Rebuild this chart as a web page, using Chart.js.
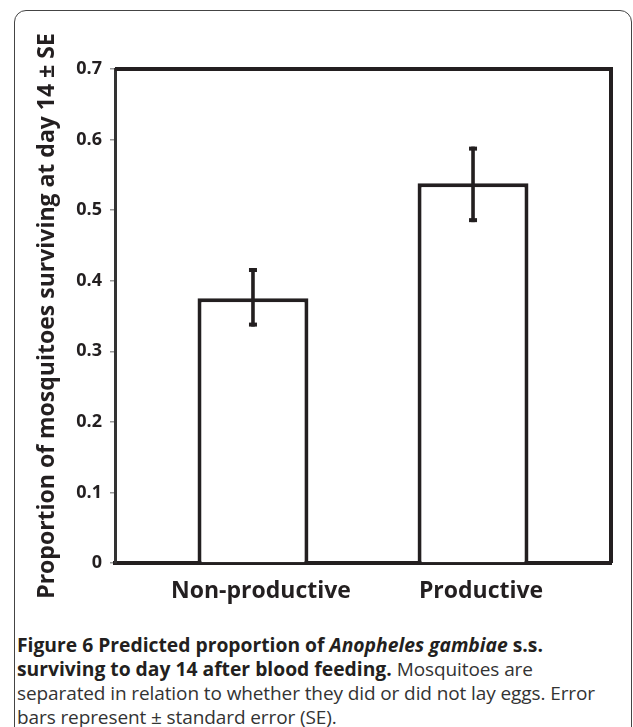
<!DOCTYPE html>
<html lang="en">
<head>
    <meta charset="UTF-8">
    <title>Figure 6</title>
    <script src="https://cdn.jsdelivr.net/npm/chart.js"></script>
    <style>
        body {
            margin: 0;
            width: 633px;
            height: 727px;
            overflow: hidden;
            background: #fff;
            position: relative;
            font-family: "Open Sans", sans-serif;
            color: #231f20;
        }
        .frame {
            position: absolute;
            left: 14px;
            top: 10px;
            width: 616px;
            height: 800px;
            border: 1.5px solid #444;
            border-radius: 12px;
        }
        .chart-box {
            position: absolute;
            left: 0;
            top: 0;
            width: 633px;
            height: 615px;
        }
        .caption {
            position: absolute;
            left: 17px;
            top: 633px;
            font-size: 19.3px;
            line-height: 24px;
            color: #231f20;
            white-space: nowrap;
        }
        .caption b { font-weight: 700; }
        .caption .reg { color: #333; font-size: 19px; letter-spacing: -0.1px; }
    </style>
</head>
<body>
    <div class="frame"></div>
    <div class="chart-box"><canvas id="chart"></canvas></div>
    <div class="caption">
        <b>Figure 6 Predicted proportion of <i>Anopheles gambiae</i> s.s.</b><br>
        <b>surviving to day 14 after blood feeding.</b> <span class="reg">Mosquitoes are</span><br>
        <span class="reg">separated in relation to whether they did or did not lay eggs. Error</span><br>
        <span class="reg">bars represent ± standard error (SE).</span>
    </div>

    <script>
        // Data
        const categories = ['Non-productive', 'Productive'];
        const meanSurvival = [0.375, 0.538];
        const upperSE = [0.418, 0.590];
        const lowerSE = [0.335, 0.483];
        const yTickLabels = ['0', '0.1', '0.2', '0.3', '0.4', '0.5', '0.6', '0.7'];

        const ink = '#231f20';

        // Error bars + the top/right frame of the plot box
        const errorBarsPlugin = {
            id: 'errorBars',
            afterDatasetsDraw(chart) {
                const ctx = chart.ctx;
                const xs = chart.scales.x;
                const ys = chart.scales.y;
                ctx.save();
                ctx.fillStyle = ink;
                categories.forEach((c, i) => {
                    const x = xs.getPixelForValue(i);
                    const yTop = ys.getPixelForValue(upperSE[i]);
                    const yBot = ys.getPixelForValue(lowerSE[i]);
                    ctx.fillRect(x - 1.8, yTop, 3.6, yBot - yTop);
                    ctx.fillRect(x - 4, yTop, 8, 4);
                    ctx.fillRect(x - 4, yBot - 4, 8, 4);
                });
                const a = chart.chartArea;
                ctx.strokeStyle = ink;
                ctx.lineWidth = 4;
                ctx.beginPath();
                ctx.moveTo(a.left, a.top);
                ctx.lineTo(a.right, a.top);
                ctx.lineTo(a.right, a.bottom);
                ctx.stroke();
                ctx.restore();
            }
        };

        new Chart(document.getElementById('chart'), {
            type: 'bar',
            data: {
                datasets: [{
                    data: meanSurvival.map((v, i) => ({ x: i, y: v })),
                    backgroundColor: '#ffffff',
                    borderColor: ink,
                    borderWidth: 4,
                    barPercentage: 1,
                    categoryPercentage: 0.504
                }]
            },
            options: {
                responsive: true,
                maintainAspectRatio: false,
                animation: false,
                layout: { padding: { left: 34, top: 69, right: 22, bottom: 0 } },
                plugins: {
                    legend: { display: false },
                    tooltip: { enabled: false }
                },
                scales: {
                    x: {
                        type: 'linear',
                        offset: false,
                        min: -0.627,
                        max: 1.627,
                        afterBuildTicks: (scale) => {
                            scale.ticks = categories.map((c, i) => ({ value: i }));
                        },
                        afterFit: (scale) => { scale.height = 52; },
                        grid: { display: false },
                        border: { display: true, color: ink, width: 4 },
                        ticks: {
                            autoSkip: false,
                            maxRotation: 0,
                            padding: 7,
                            labelOffset: 8,
                            color: ink,
                            font: { family: 'Open Sans', size: 23, weight: 'bold' },
                            callback: (v) => categories[v]
                        }
                    },
                    y: {
                        min: 0,
                        max: 0.7,
                        afterFit: (scale) => { scale.width = 81; },
                        grid: {
                            drawOnChartArea: false,
                            drawTicks: true,
                            tickLength: 5,
                            color: '#999',
                            lineWidth: 1.5
                        },
                        border: { display: true, color: '#333', width: 3 },
                        ticks: {
                            stepSize: 0.1,
                            padding: 8,
                            color: ink,
                            font: { family: 'Open Sans', size: 18, weight: 'bold' },
                            callback: (v, i) => yTickLabels[i]
                        },
                        title: {
                            display: true,
                            text: 'Proportion of mosquitoes surviving at day 14 ± SE',
                            color: ink,
                            padding: 0,
                            font: { family: 'Open Sans', size: 23, weight: 'bold' }
                        }
                    }
                }
            },
            plugins: [errorBarsPlugin]
        });
    </script>
</body>
</html>
